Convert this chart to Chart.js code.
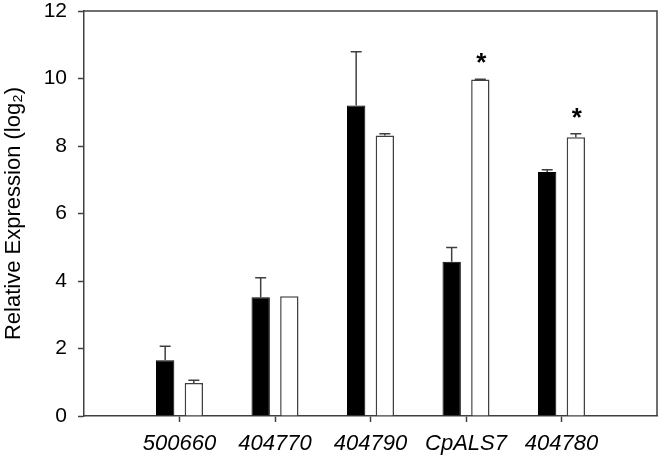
<!DOCTYPE html>
<html>
<head>
<meta charset="utf-8">
<script src="https://cdn.jsdelivr.net/npm/chart.js@4"></script>
<style>
  body { margin: 0; background: #fff; }
  canvas { display: block; }
</style>
</head>
<body>
<canvas id="expressionChart" width="666" height="458"></canvas>
<script>
// gene names along the x axis
const genes = ['500660', '404770', '404790', 'CpALS7', '404780'];
// black bars and their upper error
const blackValues = [1.65, 3.52, 9.20, 4.57, 7.23];
const blackErrors = [0.42, 0.58, 1.59, 0.42, 0.07];
// white bars and their upper error
const whiteValues = [0.98, 3.55, 8.31, 9.97, 8.26];
const whiteErrors = [0.08, 0, 0.05, 0.01, 0.10];
// significance stars on the white bars
const whiteStars = [false, false, false, true, true];
const yTicks = [0, 2, 4, 6, 8, 10, 12];

const axisColor = '#404040';

// an empty slot on each side so the genes sit one step in from the axes
const pad = arr => [null, ...arr, null];
const labels = ['', ...genes, ''];

const errorBars = {
    id: 'errorBars',
    afterDatasetsDraw(chart) {
        const ctx = chart.ctx;
        const y = chart.scales.y;
        chart.data.datasets.forEach((ds, i) => {
            const meta = chart.getDatasetMeta(i);
            meta.data.forEach((bar, j) => {
                const v = ds.data[j];
                if (v === null) return;
                const err = ds.errors[j];
                const top = y.getPixelForValue(v + err);
                ctx.save();
                ctx.strokeStyle = axisColor;
                ctx.lineWidth = 1.5;
                if (err > 0) {
                    ctx.beginPath();
                    ctx.moveTo(bar.x, bar.y);
                    ctx.lineTo(bar.x, top);
                    ctx.moveTo(bar.x - 5.5, top);
                    ctx.lineTo(bar.x + 5.5, top);
                    ctx.stroke();
                }
                if (ds.stars && ds.stars[j]) {
                    ctx.fillStyle = '#000';
                    ctx.font = 'bold 26px "Liberation Sans", Arial, sans-serif';
                    ctx.textAlign = 'center';
                    ctx.textBaseline = 'alphabetic';
                    ctx.fillText('*', bar.x + 1, top - 8);
                }
                ctx.restore();
            });
        });
    }
};

const frame = {
    id: 'frame',
    afterDraw(chart) {
        const { left, right, top, bottom } = chart.chartArea;
        const ctx = chart.ctx;
        ctx.save();
        ctx.strokeStyle = axisColor;
        ctx.lineWidth = 1.5;
        ctx.beginPath();
        ctx.moveTo(left, top);
        ctx.lineTo(right, top);
        ctx.lineTo(right, bottom);
        ctx.stroke();
        ctx.restore();
    }
};

new Chart(document.getElementById('expressionChart'), {
    type: 'bar',
    data: {
        labels: labels,
        datasets: [{
            data: pad(blackValues),
            errors: pad(blackErrors),
            backgroundColor: '#000',
            borderColor: '#000',
            borderWidth: 1
        }, {
            data: pad(whiteValues),
            errors: pad(whiteErrors),
            stars: pad(whiteStars),
            backgroundColor: '#fff',
            borderColor: axisColor,
            borderWidth: 1.5
        }]
    },
    options: {
        responsive: false,
        devicePixelRatio: 1,
        animation: false,
        categoryPercentage: 0.6,
        barPercentage: 0.64,
        layout: { padding: { top: 0, right: 2, bottom: 0, left: 0 } },
        plugins: {
            legend: { display: false },
            tooltip: { enabled: false }
        },
        scales: {
            x: {
                offset: false,
                afterFit: s => { s.height = 42; },
                grid: {
                    offset: false,
                    drawOnChartArea: false,
                    tickLength: 6,
                    tickWidth: 1.5,
                    tickColor: c => (c.index === 0 || c.index === labels.length - 1) ? 'transparent' : axisColor
                },
                border: { display: true, color: axisColor, width: 1.5 },
                ticks: {
                    color: '#000',
                    padding: 9,
                    maxRotation: 0,
                    autoSkip: false,
                    font: { family: '"Liberation Sans", Arial, sans-serif', size: 22, style: 'italic' }
                }
            },
            y: {
                min: 0,
                max: 12,
                afterBuildTicks: s => { s.ticks = yTicks.map(v => ({ value: v })); },
                afterFit: s => { s.width = 84; s.paddingTop = 11; s.paddingBottom = 11; },
                grid: {
                    drawOnChartArea: false,
                    tickLength: 6,
                    tickWidth: 1.5,
                    tickColor: axisColor
                },
                border: { display: true, color: axisColor, width: 1.5 },
                ticks: {
                    color: '#000',
                    padding: 11,
                    font: { family: '"Liberation Sans", Arial, sans-serif', size: 21, lineHeight: 1.1 }
                },
                title: {
                    display: true,
                    text: 'Relative Expression (log\u2082)',
                    color: '#000',
                    padding: { top: 1, bottom: 0 },
                    font: { family: '"Liberation Sans", Arial, sans-serif', size: 22 }
                }
            }
        }
    },
    plugins: [errorBars, frame]
});
</script>
</body>
</html>
